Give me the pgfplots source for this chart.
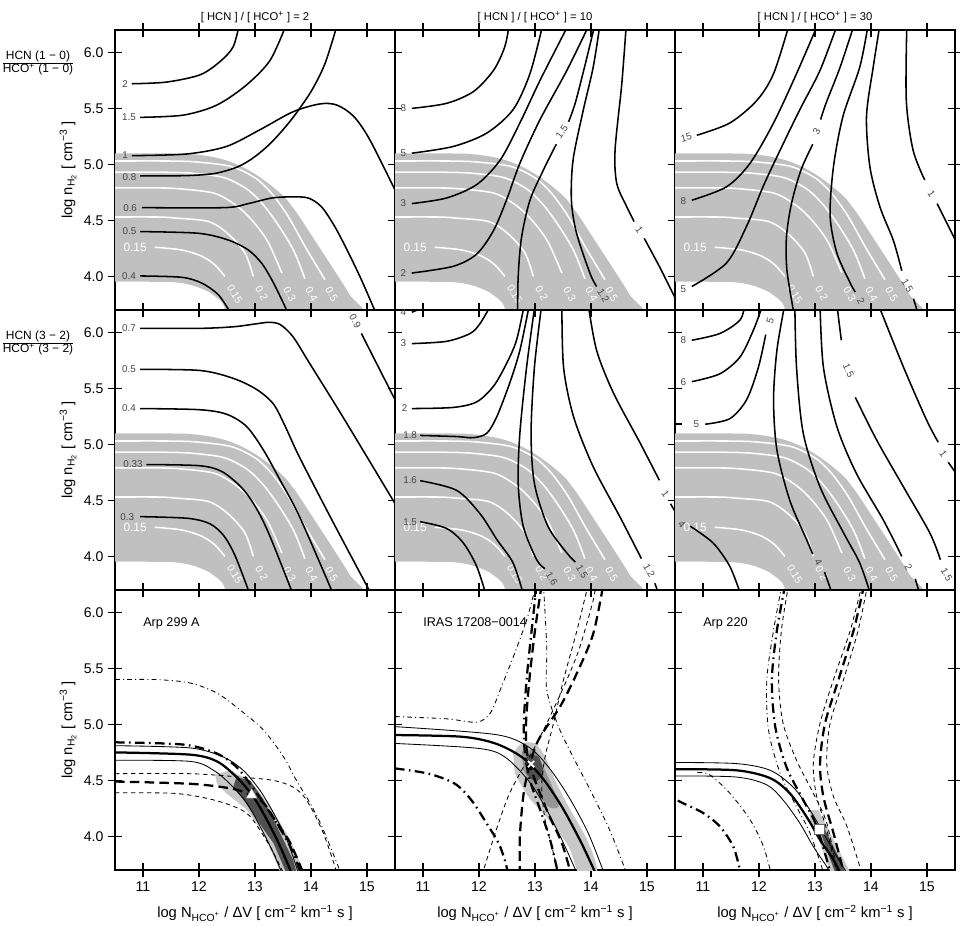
\documentclass[border=0pt]{standalone}
\usepackage{fontspec}
\setmainfont{Liberation Sans}
\usepackage{pgfplots}
\pgfplotsset{compat=1.18}
\usepgfplotslibrary{groupplots}

\definecolor{band}{RGB}{192,192,192}
\definecolor{lab}{RGB}{70,70,70}
\definecolor{g1}{RGB}{200,200,200}
\definecolor{g2}{RGB}{150,150,150}
\definecolor{g3}{RGB}{80,80,80}
\newcommand\fs[1]{\fontsize{#1}{#1}\selectfont}
\newcommand\ttl[1]{[ HCN ] / [ HCO\textsuperscript{+} ] = #1}

\pgfplotsset{
  cl/.style={black, line width=1.1pt, smooth},
  wl/.style={white, line width=1.1pt, smooth},
  s1/.style={black, line width=0.6pt, smooth},
  s2/.style={black, line width=1.6pt, smooth},
  d1/.style={black, line width=0.6pt, smooth, dash pattern=on 1.1mm off 0.9mm},
  d2/.style={black, line width=1.6pt, smooth, dash pattern=on 2.4mm off 1.3mm},
  dd1/.style={black, line width=0.6pt, smooth, dash pattern=on 1.2mm off 0.8mm on 0.25mm off 0.8mm},
  dd2/.style={black, line width=1.6pt, smooth, dash pattern=on 2.4mm off 1.1mm on 0.4mm off 1.1mm},
}
\tikzset{
  lb/.style={font=\fs{7}, text=lab, inner sep=0.3pt},
  wb/.style={font=\fs{7.5}, text=white, inner sep=0pt, rotate=-60},
}

% shaded band and white contours, same in the six upper panels
\newcommand\greyband{%
  \addplot[fill=band, draw=none, smooth] coordinates {(10.4,5.099)(11.6,5.097)(11.9,5.09)(12.2,5.07)(12.46,5.04)(12.7,4.995)(12.88,4.95)(13.06,4.895)(13.24,4.83)(13.4,4.765)(13.54,4.70)(13.66,4.625)(13.77,4.55)(14.07,4.32)(14.37,4.09)(14.67,3.85)(14.9,3.6)(12.5,3.6)(12.46,3.72)(12.39,3.78)(12.29,3.82)(12.18,3.86)(12.05,3.89)(11.88,3.92)(11.69,3.94)(11.4,3.951)(10.4,3.953)} --cycle;
  \addplot[wl] coordinates {(10.4,5.03)(11.5,5.03)(12.0,5.02)(12.58,4.98)(13.0,4.88)(13.3,4.74)(13.6,4.53)(13.89,4.27)(14.25,3.97)};
  \addplot[wl] coordinates {(10.4,4.93)(11.4,4.93)(11.9,4.92)(12.46,4.88)(12.88,4.77)(13.18,4.62)(13.48,4.41)(13.71,4.21)(13.89,3.98)};
  \addplot[wl] coordinates {(10.4,4.79)(11.3,4.79)(11.7,4.78)(12.29,4.74)(12.7,4.62)(13.0,4.47)(13.24,4.30)(13.48,4.03)};
  \addplot[wl] coordinates {(10.4,4.53)(11.3,4.53)(11.6,4.52)(12.17,4.49)(12.52,4.38)(12.82,4.21)(12.97,4.0)};
  \addplot[wl] coordinates {(11.21,4.26)(11.69,4.236)(12.05,4.18)(12.29,4.10)(12.46,4.0)};
  \node[font=\fs{8.5}, text=white, inner sep=0] at (axis cs:10.86,4.26) {0.15};
  \node[wb] at (axis cs:12.64,3.84) {0.15};
  \node[wb] at (axis cs:13.12,3.85) {0.2};
  \node[wb] at (axis cs:13.62,3.84) {0.3};
  \node[wb] at (axis cs:14.01,3.84) {0.4};
  \node[wb] at (axis cs:14.37,3.84) {0.5};
}

\begin{document}
\begin{tikzpicture}
\begin{groupplot}[
  group style={group size=3 by 3, horizontal sep=0pt, vertical sep=0pt,
    xticklabels at=edge bottom, yticklabels at=edge left},
  width=70mm, height=70mm, scale only axis,
  xmin=10.5, xmax=15.5, ymin=3.7, ymax=6.2,
  xtick={11,12,13,14,15}, ytick={4,4.5,5,5.5,6},
  /pgf/number format/assume math mode=true,
  yticklabel style={/pgf/number format/.cd, fixed, fixed zerofill, precision=1},
  tick label style={font=\fs{10}},
  tick align=center, major tick length=3.3mm,
  tick style={line width=0.4mm, black},
  axis line style={line width=0.5mm},
  title style={font=\fs{8}, at={(axis description cs:0.5,1.054)}, anchor=center, yshift=-2.75mm},
  xlabel style={font=\fs{10.5}, at={(axis description cs:0.5,-0.154)}, anchor=center},
  ylabel style={font=\fs{10.5}, at={(axis description cs:-0.168,0.5)}, anchor=center},
]
% ---------- row 1: HCN(1-0)/HCO+(1-0)
\nextgroupplot[title={\ttl{2}}, ylabel={log n\textsubscript{H\textsubscript{2}} [ cm\textsuperscript{−3} ]}]
\coordinate (tl) at (rel axis cs:0,1);
\greyband
\addplot[cl] coordinates {(10.80,5.72)(11.42,5.735)(12.02,5.80)(12.38,5.92)(12.61,6.05)(12.72,6.25)};
\addplot[cl] coordinates {(10.95,5.42)(11.72,5.44)(12.32,5.53)(12.85,5.71)(13.27,5.93)(13.56,6.25)};
\addplot[cl] coordinates {(10.80,5.078)(11.78,5.093)(12.49,5.16)(13.09,5.31)(13.68,5.47)(14.16,5.54)(14.46,5.53)(14.76,5.43)(15.05,5.22)(15.55,4.72)};
\addplot[cl] coordinates {(10.95,4.897)(11.78,4.90)(12.29,4.92)(12.70,4.98)(13.0,5.07)(13.3,5.2)(13.65,5.40)(14.0,5.65)(14.25,5.90)(14.47,6.25)};
\addplot[cl] coordinates {(10.98,4.614)(12.46,4.614)(12.88,4.65)(13.3,4.70)(13.65,4.71)(13.95,4.70)(14.19,4.62)(14.43,4.44)(14.67,4.21)(14.9,3.97)(15.17,3.66)};
\addplot[cl] coordinates {(10.95,4.40)(11.99,4.385)(12.52,4.325)(12.88,4.236)(13.12,4.117)(13.30,3.97)(13.48,3.79)(13.60,3.66)};
\addplot[cl] coordinates {(10.95,4.004)(11.69,3.992)(12.05,3.94)(12.35,3.834)(12.58,3.66)};
\node[lb] at (axis cs:10.68,5.72) {2};
\node[lb] at (axis cs:10.75,5.42) {1.5};
\node[lb] at (axis cs:10.68,5.08) {1};
\node[lb] at (axis cs:10.76,4.89) {0.8};
\node[lb] at (axis cs:10.77,4.614) {0.6};
\node[lb] at (axis cs:10.76,4.40) {0.5};
\node[lb] at (axis cs:10.75,4.004) {0.4};

\nextgroupplot[title={\ttl{10}}]
\greyband
\addplot[cl] coordinates {(10.80,5.50)(11.42,5.545)(11.90,5.65)(12.26,5.84)(12.46,6.05)(12.54,6.25)};
\addplot[cl] coordinates {(10.80,5.10)(11.54,5.16)(12.14,5.28)(12.61,5.49)(12.91,5.81)(13.14,6.25)};
\addplot[cl] coordinates {(10.80,4.65)(11.42,4.70)(11.96,4.82)(12.38,5.04)(12.73,5.37)(13.09,5.75)(13.60,6.25)};
\addplot[cl] coordinates {(10.80,4.03)(11.54,4.09)(11.96,4.20)(12.26,4.41)(12.49,4.68)(12.73,5.01)(13.09,5.40)(13.57,5.84)(13.97,6.25)};
\addplot[cl] coordinates {(14.07,6.25)(13.90,5.90)(13.72,5.55)(13.60,5.38)};
\addplot[cl] coordinates {(13.38,5.18)(13.15,4.95)(12.91,4.68)(12.76,4.35)(12.70,4.0)(12.69,3.65)};
\addplot[cl] coordinates {(14.16,6.25)(14.04,5.87)(13.86,5.48)(13.68,5.04)(13.65,4.68)(13.74,4.39)(13.98,4.03)(14.10,3.91)};
\addplot[cl] coordinates {(14.63,6.25)(14.55,5.72)(14.43,5.13)(14.46,4.83)(14.64,4.62)(14.77,4.49)};
\addplot[cl] coordinates {(14.95,4.34)(15.23,4.08)(15.55,3.76)};
\node[lb] at (axis cs:10.65,5.50) {8};
\node[lb] at (axis cs:10.65,5.10) {5};
\node[lb] at (axis cs:10.65,4.65) {3};
\node[lb] at (axis cs:10.65,4.03) {2};
\node[lb, rotate=55] at (axis cs:13.48,5.29) {1.5};
\node[lb, rotate=-60] at (axis cs:14.22,3.83) {1.2};
\node[lb, rotate=-55] at (axis cs:14.86,4.42) {1};

\nextgroupplot[title={\ttl{30}}]
\greyband
\addplot[cl] coordinates {(10.89,5.26)(11.48,5.37)(11.96,5.57)(12.26,5.81)(12.54,6.25)};
\addplot[cl] coordinates {(10.80,4.68)(11.42,4.80)(11.84,5.01)(12.26,5.37)(12.67,5.81)(13.05,6.25)};
\addplot[cl] coordinates {(10.80,3.91)(11.42,4.12)(11.78,4.45)(12.08,4.81)(12.38,5.13)(12.73,5.49)(13.09,5.84)(13.40,6.25)};
\addplot[cl] coordinates {(13.70,6.25)(13.45,5.87)(13.20,5.55)(13.10,5.40)};
\addplot[cl] coordinates {(12.96,5.18)(12.75,4.95)(12.58,4.65)(12.49,4.35)(12.50,4.05)(12.63,3.65)};
\addplot[cl] coordinates {(13.95,6.25)(13.80,5.87)(13.5,5.43)(13.33,4.98)(13.27,4.54)(13.39,4.21)(13.63,3.94)(13.72,3.86)};
\addplot[cl] coordinates {(14.16,6.25)(14.04,5.87)(13.92,5.43)(13.98,4.98)(14.16,4.62)(14.40,4.32)(14.55,4.05)};
\addplot[cl] coordinates {(14.76,3.80)(14.85,3.65)};
\addplot[cl] coordinates {(14.64,6.25)(14.63,5.575)(14.75,5.13)(14.96,4.86)};
\addplot[cl] coordinates {(15.18,4.65)(15.55,4.28)};
\node[lb, rotate=15] at (axis cs:10.70,5.24) {15};
\node[lb] at (axis cs:10.65,4.67) {8};
\node[lb] at (axis cs:10.65,3.89) {5};
\node[lb, rotate=60] at (axis cs:13.03,5.29) {3};
\node[lb, rotate=-60] at (axis cs:13.82,3.78) {2};
\node[lb, rotate=-60] at (axis cs:14.65,3.92) {1.5};
\node[lb, rotate=-55] at (axis cs:15.08,4.74) {1};

% ---------- row 2: HCN(3-2)/HCO+(3-2)
\nextgroupplot[ylabel={log n\textsubscript{H\textsubscript{2}} [ cm\textsuperscript{−3} ]}]
\coordinate (r2) at (rel axis cs:0,1);
\greyband
\addplot[cl] coordinates {(10.95,6.036)(12.02,6.036)(12.61,6.05)(13.0,6.075)(13.25,6.09)(13.45,6.07)(13.68,5.96)(13.98,5.72)(14.6,5.22)(15.55,4.43)};
\addplot[cl] coordinates {(14.90,5.99)(15.55,5.35)};
\addplot[cl] coordinates {(10.95,5.67)(12.02,5.66)(12.61,5.59)(13.03,5.49)(13.33,5.36)(13.55,5.15)(13.8,4.88)(14.4,4.3)(15.08,3.66)};
\addplot[cl] coordinates {(10.95,5.32)(12.0,5.31)(12.49,5.27)(12.85,5.16)(13.15,4.95)(13.45,4.68)(13.80,4.35)(14.40,3.66)};
\addplot[cl] coordinates {(11.06,4.82)(12.0,4.81)(12.4,4.76)(12.75,4.62)(13.0,4.45)(13.25,4.2)(13.68,3.66)};
\addplot[cl] coordinates {(10.95,4.355)(11.8,4.34)(12.2,4.29)(12.45,4.18)(12.65,4.0)(12.91,3.66)};
\node[lb] at (axis cs:10.75,6.036) {0.7};
\node[lb] at (axis cs:10.75,5.67) {0.5};
\node[lb] at (axis cs:10.75,5.32) {0.4};
\node[lb] at (axis cs:10.82,4.82) {0.33};
\node[lb] at (axis cs:10.72,4.355) {0.3};
\node[lb, rotate=-60] at (axis cs:14.79,6.10) {0.9};

\nextgroupplot
\greyband
\addplot[cl] coordinates {(10.80,6.18)(11.05,6.23)};
\addplot[cl] coordinates {(10.80,5.90)(11.42,5.92)(11.84,5.99)(12.02,6.08)(12.22,6.25)};
\addplot[cl] coordinates {(10.80,5.32)(11.54,5.33)(11.96,5.38)(12.26,5.52)(12.49,5.72)(12.67,5.93)(12.81,6.25)};
\addplot[cl] coordinates {(10.95,5.08)(11.6,5.07)(11.90,5.06)(12.14,5.10)(12.32,5.25)(12.55,5.55)(12.73,5.84)(12.90,6.25)};
\addplot[cl] coordinates {(10.95,4.676)(11.60,4.59)(12.02,4.38)(12.32,4.15)(12.61,3.94)(12.80,3.65)};
\addplot[cl] coordinates {(10.95,4.31)(11.42,4.25)(11.72,4.12)(11.96,3.91)(12.13,3.65)};
\addplot[cl] coordinates {(13.0,6.25)(12.85,5.69)(12.73,5.10)(12.70,4.65)(12.79,4.27)(13.03,3.97)(13.18,3.89)};
\addplot[cl] coordinates {(13.12,6.25)(12.99,5.69)(12.93,5.10)(12.99,4.65)(13.23,4.27)(13.57,4.03)(13.72,3.95)};
\addplot[cl] coordinates {(13.48,6.25)(13.51,5.69)(13.69,5.245)(14.04,4.80)(14.52,4.35)(14.90,3.98)};
\addplot[cl] coordinates {(15.14,3.76)(15.22,3.65)};
\addplot[cl] coordinates {(13.95,6.25)(14.10,5.84)(14.40,5.46)(14.88,5.01)(15.22,4.68)};
\addplot[cl] coordinates {(15.42,4.47)(15.55,4.36)};
\node[lb] at (axis cs:10.65,6.18) {4};
\node[lb] at (axis cs:10.65,5.90) {3};
\node[lb] at (axis cs:10.67,5.32) {2};
\node[lb] at (axis cs:10.77,5.08) {1.8};
\node[lb] at (axis cs:10.77,4.68) {1.6};
\node[lb] at (axis cs:10.77,4.31) {1.5};
\node[lb, rotate=-60] at (axis cs:13.30,3.80) {1.6};
\node[lb, rotate=-60] at (axis cs:13.84,3.86) {1.5};
\node[lb, rotate=-60] at (axis cs:15.04,3.87) {1.2};
\node[lb, rotate=-55] at (axis cs:15.33,4.56) {1};

\nextgroupplot
\greyband
\addplot[cl] coordinates {(10.80,5.93)(11.30,5.99)(11.66,6.11)(11.75,6.25)};
\addplot[cl] coordinates {(10.80,5.56)(11.30,5.63)(11.66,5.78)(11.90,6.02)(12.07,6.25)};
\addplot[cl] coordinates {(10.45,5.18)(10.62,5.18)};
\addplot[cl] coordinates {(11.04,5.18)(11.48,5.23)(11.78,5.40)(11.99,5.69)(12.12,5.98)};
\addplot[cl] coordinates {(10.77,4.27)(11.18,4.12)(11.48,3.91)(11.68,3.65)};
\addplot[cl] coordinates {(12.46,6.25)(12.32,5.84)(12.26,5.40)(12.32,4.95)(12.55,4.50)(12.85,4.15)(12.96,4.02)};
\addplot[cl] coordinates {(13.17,3.86)(13.32,3.65)};
\addplot[cl] coordinates {(12.64,6.25)(12.67,5.69)(12.79,5.10)(13.09,4.62)(13.51,4.21)(13.80,3.94)(14.0,3.65)};
\addplot[cl] coordinates {(13.09,6.25)(13.15,5.69)(13.39,5.16)(13.74,4.74)(14.22,4.325)(14.55,4.0)};
\addplot[cl] coordinates {(14.79,3.80)(14.88,3.65)};
\addplot[cl] coordinates {(13.39,6.25)(13.47,5.93)};
\addplot[cl] coordinates {(13.72,5.42)(14.10,5.04)(14.58,4.62)(15.05,4.21)(15.24,3.97)};
\addplot[cl] coordinates {(14.13,6.25)(14.58,5.69)(14.99,5.22)(15.20,5.02)};
\addplot[cl] coordinates {(15.38,4.84)(15.55,4.72)};
\node[lb] at (axis cs:10.65,5.93) {8};
\node[lb] at (axis cs:10.65,5.56) {6};
\node[lb] at (axis cs:10.88,5.18) {5};
\node[lb, rotate=70] at (axis cs:12.20,6.10) {5};
\node[lb, rotate=-50] at (axis cs:10.62,4.29) {4};
\node[lb, rotate=-60] at (axis cs:13.06,3.95) {4};
\node[lb, rotate=-60] at (axis cs:14.67,3.90) {2};
\node[lb, rotate=-65] at (axis cs:13.60,5.66) {1.5};
\node[lb, rotate=-60] at (axis cs:15.35,3.84) {1.5};
\node[lb, rotate=-55] at (axis cs:15.29,4.92) {1};

% ---------- row 3: sources
\nextgroupplot[ylabel={log n\textsubscript{H\textsubscript{2}} [ cm\textsuperscript{−3} ]},
  xlabel={log N\textsubscript{HCO\textsuperscript{+}} / ΔV [ cm\textsuperscript{−2} km\textsuperscript{−1} s ]}]
\addplot[fill=g1, draw=none] coordinates {(12.29,4.55)(12.55,4.59)(12.91,4.50)(13.27,4.27)(13.63,3.97)(13.90,3.65)(13.48,3.65)(13.15,4.03)(12.85,4.24)(12.49,4.385)(12.32,4.47)} --cycle;
\addplot[fill=g3, draw=none] coordinates {(12.67,4.53)(12.91,4.50)(13.15,4.33)(13.39,4.09)(13.68,3.79)(13.76,3.65)(13.58,3.65)(13.33,3.94)(13.03,4.15)(12.79,4.33)(12.61,4.44)} --cycle;
\addplot[dd1] coordinates {(10.5,5.40)(11.24,5.40)(11.84,5.37)(12.32,5.28)(12.73,5.13)(13.15,4.95)(13.51,4.71)(13.74,4.50)(13.98,4.30)(14.22,4.06)(14.55,3.65)};
\addplot[d1] coordinates {(10.5,4.56)(11.84,4.56)(12.73,4.53)(13.33,4.50)(13.68,4.44)(13.92,4.325)(14.22,4.03)(14.48,3.65)};
\addplot[d1] coordinates {(10.5,4.39)(11.54,4.385)(12.14,4.34)(12.61,4.27)(12.91,4.18)(13.27,3.91)(13.53,3.65)};
\addplot[d2] coordinates {(10.5,4.49)(11.84,4.47)(12.55,4.43)(12.85,4.385)(13.15,4.30)(13.39,4.12)(13.63,3.94)(13.88,3.65)};
\addplot[dd2] coordinates {(10.5,4.84)(11.72,4.82)(12.32,4.74)(12.67,4.62)(12.91,4.47)(13.27,4.21)(13.63,3.91)(13.83,3.65)};
\addplot[s1] coordinates {(10.5,4.81)(11.84,4.79)(12.43,4.71)(12.79,4.59)(13.09,4.41)(13.33,4.21)(13.57,3.97)(13.79,3.65)};
\addplot[s2] coordinates {(10.5,4.75)(11.84,4.73)(12.32,4.67)(12.67,4.53)(12.97,4.355)(13.21,4.15)(13.45,3.91)(13.67,3.65)};
\addplot[s1] coordinates {(10.5,4.68)(11.84,4.67)(12.26,4.59)(12.55,4.47)(12.85,4.30)(13.09,4.09)(13.33,3.85)(13.50,3.65)};
\addplot[only marks, mark=triangle*, mark size=1.6mm, mark options={fill=white, draw=black!50, line width=0.3pt}] coordinates {(12.94,4.37)};
\node[font=\fs{9}, anchor=base west, inner sep=0] at (axis cs:11.0,5.87) {Arp 299 A};

\nextgroupplot[xlabel={log N\textsubscript{HCO\textsuperscript{+}} / ΔV [ cm\textsuperscript{−2} km\textsuperscript{−1} s ]}]
\addplot[fill=g1, draw=none, smooth] coordinates {(12.61,4.74)(12.76,4.83)(13.0,4.83)(13.18,4.71)(13.36,4.50)(13.6,4.265)(13.9,4.0)(14.07,3.79)(14.10,3.65)(13.80,3.65)(13.6,3.91)(13.24,4.15)(12.88,4.355)(12.64,4.56)} --cycle;
\addplot[fill=g2, draw=none, smooth] coordinates {(12.76,4.76)(13.0,4.76)(13.18,4.59)(13.36,4.385)(13.42,4.265)(13.24,4.265)(13.0,4.41)(12.79,4.59)} --cycle;
\addplot[fill=g3, draw=none, smooth] coordinates {(12.85,4.73)(13.06,4.71)(13.15,4.56)(13.0,4.49)(12.85,4.56)} --cycle;
\addplot[s1] coordinates {(10.5,4.98)(12.29,4.91)(12.88,4.80)(13.24,4.62)(13.6,4.355)(13.95,4.03)(14.25,3.65)};
\addplot[s2] coordinates {(10.5,4.905)(11.69,4.89)(12.29,4.83)(12.76,4.71)(13.12,4.53)(13.48,4.265)(13.83,3.94)(14.1,3.65)};
\addplot[s1] coordinates {(10.5,4.83)(11.99,4.786)(12.46,4.71)(12.88,4.50)(13.18,4.265)(13.48,3.97)(13.77,3.65)};
\addplot[dd1] coordinates {(10.5,5.07)(11.42,5.05)(11.96,5.02)(12.20,5.10)(12.38,5.31)(12.61,5.60)(12.85,5.93)(13.02,6.25)};
\addplot[dd1] coordinates {(13.15,6.25)(13.21,5.69)(13.21,5.31)(13.42,4.98)(13.71,4.68)(13.98,4.42)(14.34,4.05)(14.65,3.65)};
\addplot[dd2] coordinates {(10.5,4.607)(11.1,4.56)(11.57,4.47)(11.87,4.32)(12.17,4.09)(12.35,3.94)(12.46,3.79)(12.53,3.65)};
\addplot[dd2] coordinates {(13.03,6.25)(12.94,5.84)(12.85,5.40)(12.80,5.01)(12.82,4.74)(12.91,4.50)(13.09,4.24)(13.27,3.97)(13.42,3.65)};
\addplot[d1] coordinates {(12.05,3.65)(12.29,4.03)(12.52,4.355)(12.76,4.59)(13.0,4.80)(13.24,5.04)(13.57,5.40)(13.80,5.69)(14.04,6.11)(14.08,6.25)};
\addplot[d2] coordinates {(12.73,3.65)(12.73,4.0)(12.79,4.355)(12.88,4.59)(13.06,4.86)(13.45,5.16)(13.75,5.46)(14.04,5.81)(14.22,6.25)};
\addplot[d1] coordinates {(13.95,6.25)(13.75,5.84)(13.51,5.40)(13.33,5.01)(13.18,4.71)(13.12,4.45)(13.18,4.15)(13.33,3.85)(13.42,3.65)};
\addplot[d2] coordinates {(13.12,6.25)(13.0,5.84)(12.90,5.40)(12.84,5.01)(12.86,4.74)(13.0,4.50)(13.24,4.20)(13.48,3.94)(13.65,3.65)};
\addplot[only marks, mark=x, mark size=1.1mm, mark options={white, line width=1.3pt}] coordinates {(12.93,4.646)};
\node[font=\fs{9}, anchor=base west, inner sep=0] at (axis cs:11.0,5.87) {IRAS 17208−0014};

\nextgroupplot[xlabel={log N\textsubscript{HCO\textsuperscript{+}} / ΔV [ cm\textsuperscript{−2} km\textsuperscript{−1} s ]}]
\addplot[fill=g1, draw=none] coordinates {(12.91,4.235)(13.06,4.235)(13.27,4.03)(13.66,3.65)(13.30,3.65)(13.09,3.94)(12.91,4.15)} --cycle;
\addplot[fill=g3, draw=none] coordinates {(13.06,4.09)(13.18,4.06)(13.42,3.82)(13.56,3.65)(13.38,3.65)(13.21,3.88)} --cycle;
\addplot[s1] coordinates {(10.5,4.66)(11.60,4.65)(12.20,4.59)(12.61,4.44)(12.91,4.235)(13.15,4.03)(13.39,3.82)(13.60,3.65)};
\addplot[s2] coordinates {(10.5,4.60)(11.60,4.59)(12.20,4.52)(12.55,4.385)(12.85,4.175)(13.09,3.97)(13.33,3.79)(13.47,3.65)};
\addplot[s1] coordinates {(10.5,4.54)(11.60,4.53)(12.14,4.46)(12.43,4.325)(12.73,4.117)(12.97,3.91)(13.21,3.73)(13.30,3.65)};
\addplot[dd2] coordinates {(10.55,4.32)(10.65,4.295)(11.0,4.21)(11.30,4.09)(11.54,3.91)(11.66,3.70)};
\addplot[dd1] coordinates {(10.9,4.57)(11.12,4.55)(11.48,4.385)(11.84,4.15)(12.08,3.91)(12.22,3.66)};
\addplot[dd1] coordinates {(12.41,6.25)(12.26,5.84)(12.14,5.40)(12.17,4.95)(12.38,4.56)(12.67,4.265)(12.91,4.03)(13.17,3.65)};
\addplot[dd2] coordinates {(12.47,6.25)(12.32,5.84)(12.23,5.40)(12.29,4.98)(12.49,4.62)(12.79,4.325)(13.03,4.09)(13.29,3.65)};
\addplot[d1] coordinates {(12.53,6.25)(12.40,5.84)(12.35,5.40)(12.43,5.01)(12.67,4.68)(12.97,4.385)(13.21,4.12)(13.41,3.65)};
\addplot[d1] coordinates {(13.84,6.25)(13.63,5.84)(13.33,5.40)(13.09,5.01)(12.97,4.65)(13.03,4.355)(13.21,4.06)(13.40,3.65)};
\addplot[d2] coordinates {(13.88,6.25)(13.69,5.84)(13.42,5.40)(13.18,5.01)(13.09,4.65)(13.15,4.355)(13.33,4.03)(13.53,3.65)};
\addplot[d1] coordinates {(13.94,6.25)(13.77,5.84)(13.51,5.40)(13.27,5.01)(13.21,4.65)(13.33,4.355)(13.57,4.09)(13.85,3.65)};
\addplot[only marks, mark=square*, mark size=1.25mm, mark options={fill=white, draw=black!60, line width=0.3pt}] coordinates {(13.08,4.06)};
\node[font=\fs{9}, anchor=base west, inner sep=0] at (axis cs:11.0,5.87) {Arp 220};
\end{groupplot}
\node[font=\fs{8.5}, inner sep=0] at ([xshift=-19.25mm,yshift=-8.25mm]tl) {\begin{tabular}{@{}c@{}}HCN (1 − 0)\\\hline HCO\textsuperscript{+} (1 − 0)\end{tabular}};
\node[font=\fs{8.5}, inner sep=0] at ([xshift=-19.25mm,yshift=-8.25mm]r2) {\begin{tabular}{@{}c@{}}HCN (3 − 2)\\\hline HCO\textsuperscript{+} (3 − 2)\end{tabular}};
\pgfresetboundingbox
\path ([xshift=-28.75mm,yshift=7.5mm]tl) rectangle ([xshift=211.25mm,yshift=-223.75mm]tl);
\end{tikzpicture}
\end{document}
